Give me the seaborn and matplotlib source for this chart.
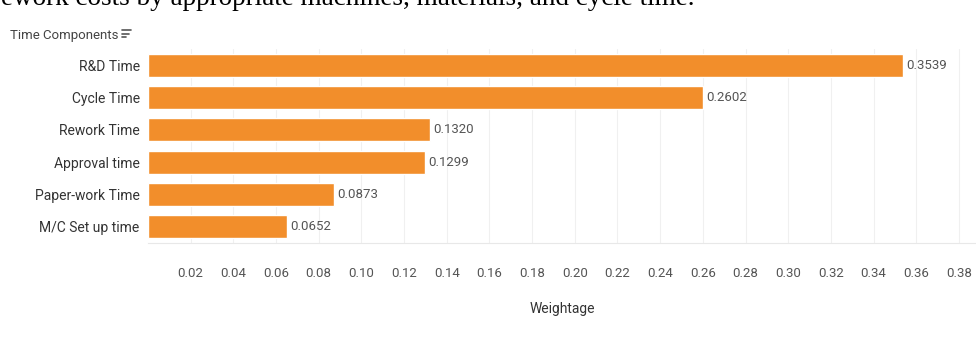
import matplotlib
matplotlib.use("Agg")
import matplotlib.pyplot as plt
import seaborn as sns
import pandas as pd
from matplotlib.lines import Line2D

# data
componentes = ["R&D Time", "Cycle Time", "Rework Time", "Approval time",
               "Paper-work Time", "M/C Set up time"]
pesos = [0.3539, 0.2602, 0.1320, 0.1299, 0.0873, 0.0652]
ticks_x = [0.02, 0.04, 0.06, 0.08, 0.10, 0.12, 0.14, 0.16, 0.18, 0.20,
           0.22, 0.24, 0.26, 0.28, 0.30, 0.32, 0.34, 0.36, 0.38]

df = pd.DataFrame({"Componente": componentes, "Peso": pesos})

sns.set_style("white")
plt.rcParams["font.family"] = ["Roboto", "DejaVu Sans"]

W, H = 976, 337
fig = plt.figure(figsize=(W / 100, H / 100), dpi=100)
ax = fig.add_axes([148 / W, 1 - 243 / H, (976 - 148) / W, (243 - 49) / H])

sns.barplot(data=df, x="Peso", y="Componente", color="#f28e2b",
            width=0.71, saturation=1, ax=ax, orient="h")

for bar, v in zip(ax.patches, pesos):
    ax.text(v + 0.0015, bar.get_y() + bar.get_height() / 2, f"{v:.4f}",
            va="center", ha="left", fontsize=9.5, color="#555555")

ax.set_xlim(0, 0.388)
ax.set_xticks(ticks_x)
ax.set_xticklabels([f"{t:.2f}" for t in ticks_x], fontsize=9.5, color="#555555")
ax.tick_params(axis="x", length=0, pad=17)
ax.tick_params(axis="y", length=0, pad=6, labelsize=10, labelcolor="#333333")
ax.grid(axis="x", color="#f0f0f0", linewidth=0.8)
ax.set_axisbelow(True)
ax.set_ylabel("")
ax.set_xlabel("Weightage", fontsize=10, color="#333333", labelpad=16)
for s in ["top", "right", "left"]:
    ax.spines[s].set_visible(False)
ax.spines["bottom"].set_color("#e8e8e8")
ax.spines["bottom"].set_linewidth(0.8)

# encabezado de la columna
fig.text(10 / W, 1 - 36 / H, "Time Components", fontsize=9.5, color="#444444",
         va="center", ha="left")
for i, (x0, x1) in enumerate([(122, 131), (122, 129), (122, 126)]):
    y = 1 - (30 + i * 3.5) / H
    fig.add_artist(Line2D([x0 / W, x1 / W], [y, y], color="#555555",
                          linewidth=1.2, transform=fig.transFigure))

# texto recortado del documento original (cortado arriba, como en la captura)
fig.text(-8 / W, 1 - 5 / H, "rework costs by appropriate machines, materials, and cycle time.",
         fontsize=19.5, family="Liberation Serif", color="black", va="baseline", ha="left")

fig.savefig("out.png", dpi=100)
